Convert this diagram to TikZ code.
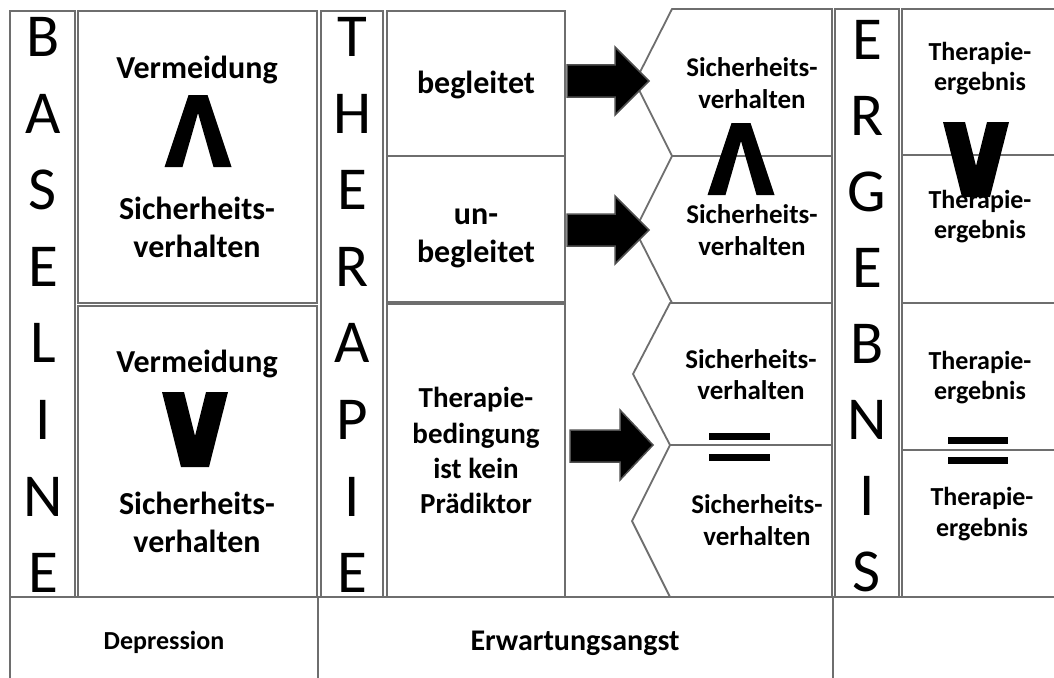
\documentclass[tikz,border=0pt]{standalone}
\usepackage{fontspec}
\setmainfont{Carlito}
\definecolor{lc}{RGB}{110,110,110}
\definecolor{ac}{RGB}{80,80,80}
% V symbol: centre x, y of the top (wide) end
\newcommand\veesym[2]{%
  \fill ({#1-33},{#2}) -- ({#1-11},{#2}) -- ({#1},{#2+44}) -- ({#1+11},{#2})
    -- ({#1+33},{#2}) -- ({#1+14},{#2+75}) -- ({#1-14},{#2+75}) -- cycle;}
% Lambda symbol: centre x, y of the bottom (wide) end
\newcommand\lambdasym[2]{%
  \fill ({#1-33.5},{#2}) -- ({#1-15.5},{#2}) -- ({#1},{#2-54}) -- ({#1+15.5},{#2})
    -- ({#1+33.5},{#2}) -- ({#1+9.5},{#2-72}) -- ({#1-9.5},{#2-72}) -- cycle;}
\begin{document}
\begin{tikzpicture}[x=1pt,y=-1pt,
  ln/.style={draw=lc, line width=1.8pt, line join=miter},
  bigletter/.style={font=\fontsize{61}{61}\selectfont, inner sep=0pt},
  tA/.style={font=\bfseries\fontsize{32}{38}\selectfont, inner sep=0pt, anchor=base},
  tB/.style={font=\bfseries\fontsize{29}{35}\selectfont, inner sep=0pt, anchor=base},
  tC/.style={font=\bfseries\fontsize{27}{31}\selectfont, inner sep=0pt, anchor=base},
  tD/.style={font=\bfseries\fontsize{26}{30}\selectfont, inner sep=0pt, anchor=base},
  blockarrow/.style={fill=black, draw=ac, line width=1.5pt, line join=miter},
  bar/.style={fill=black},
]
\useasboundingbox (0,0) rectangle (1054,677);
\clip (0,0) rectangle (1054,677);
\fill[white] (0,0) rectangle (1054,677);

% BASELINE
\draw[ln] (10,11) rectangle (75,597);
\draw[ln] (78,11) rectangle (317,303);
\draw[ln] (78,306) rectangle (317,597);
% THERAPIE
\draw[ln] (321,11) rectangle (383,597);
\draw[ln] (387,11) rectangle (565,156);
\draw[ln] (387,156) rectangle (565,302);
\draw[ln] (387,304) rectangle (565,597);
% outcome chevrons
\draw[ln] (672,9) -- (635,82) -- (672,156) -- (832,156) -- (832,9) -- cycle;
\draw[ln] (672,156) -- (635,230) -- (672,303) -- (832,303) -- (832,156) -- cycle;
\draw[ln] (670,303) -- (633,374) -- (670,445) -- (832,445) -- (832,303) -- cycle;
\draw[ln] (670,445) -- (632,521) -- (670,597) -- (832,597) -- (832,445) -- cycle;
% ERGEBNIS
\draw[ln] (835,9) rectangle (899,597);
\draw[ln] (902,9) rectangle (1070,155);
\draw[ln] (902,155) rectangle (1070,303);
\draw[ln] (902,303) rectangle (1070,450);
\draw[ln] (902,450) rectangle (1070,597);
% bottom row
\draw[ln] (10,597) rectangle (318,700);
\draw[ln] (318,597) rectangle (833,700);
\draw[ln] (833,597) rectangle (1070,700);

% block arrows
\draw[blockarrow] (567,65) -- (615,65) -- (615,47) -- (649,81) -- (615,115) -- (615,97) -- (567,97) -- cycle;
\draw[blockarrow] (567,214) -- (615,214) -- (615,196) -- (649,230) -- (615,264) -- (615,246) -- (567,246) -- cycle;
\draw[blockarrow] (570,430) -- (620,430) -- (620,410) -- (653,445) -- (620,480) -- (620,462) -- (570,462) -- cycle;

% vertical words
\foreach \l [count=\i from 0] in {B,A,S,E,L,I,N,E}
  \node[bigletter] (bl\i) at (43,37+76.6*\i) {\l};
\foreach \l [count=\i from 0] in {T,H,E,R,A,P,I,E}
  \node[bigletter] (th\i) at (352,37+76.6*\i) {\l};
\foreach \l [count=\i from 0] in {E,R,G,E,B,N,I,S}
  \node[bigletter] (er\i) at (867,40+76*\i) {\l};

% baseline texts
\node[tA] (b1a) at (197,78) {Vermeidung};
\lambdasym{198}{167}
\node[tA] (b1b) at (197,219) {Sicherheits-};
\node[tA] (b1c) at (197,257) {verhalten};
\node[tA] (b2a) at (197,372) {Vermeidung};
\veesym{195}{392}
\node[tA] (b2b) at (197,514) {Sicherheits-};
\node[tA] (b2c) at (197,552) {verhalten};

% therapy texts
\node[tA] (t1) at (476,93) {begleitet};
\node[tA] (t2a) at (476,224) {un-};
\node[tA] (t2b) at (476,262) {begleitet};
\node[tB] (t3a) at (476,407) {Therapie-};
\node[tB] (t3b) at (476,443) {bedingung};
\node[tB] (t3c) at (476,478) {ist kein};
\node[tB] (t3d) at (476,513) {Prädiktor};

% outcome texts
\node[tC] (o1a) at (752,77) {Sicherheits-};
\node[tC] (o1b) at (752,108) {verhalten};
\lambdasym{741}{195}
\node[tC] (o2a) at (752,223) {Sicherheits-};
\node[tC] (o2b) at (752,255) {verhalten};
\node[tC] (o3a) at (751,368) {Sicherheits-};
\node[tC] (o3b) at (751,399) {verhalten};
\node[tC] (o4a) at (757,513) {Sicherheits-};
\node[tC] (o4b) at (757,545) {verhalten};
\fill[bar] (709,433) rectangle (770,440);
\fill[bar] (709,454) rectangle (770,461);

% result texts
\node[tD] (r1a) at (980,60) {Therapie-};
\node[tD] (r1b) at (980,90) {ergebnis};
\veesym{976}{122}
\node[tD] (r2a) at (980,208) {Therapie-};
\node[tD] (r2b) at (980,238) {ergebnis};
\node[tD] (r3a) at (980,369) {Therapie-};
\node[tD] (r3b) at (980,399) {ergebnis};
\node[tD] (r4a) at (982,505) {Therapie-};
\node[tD] (r4b) at (982,536) {ergebnis};
\fill[bar] (948,437) rectangle (1008,444);
\fill[bar] (948,457) rectangle (1008,464);

% bottom row
\node[tD] (dep) at (164,649) {Depression};
\node[font=\bfseries\fontsize{30}{36}\selectfont, inner sep=0pt, anchor=base] (ea) at (575,650) {Erwartungsangst};
\end{tikzpicture}
\end{document}
